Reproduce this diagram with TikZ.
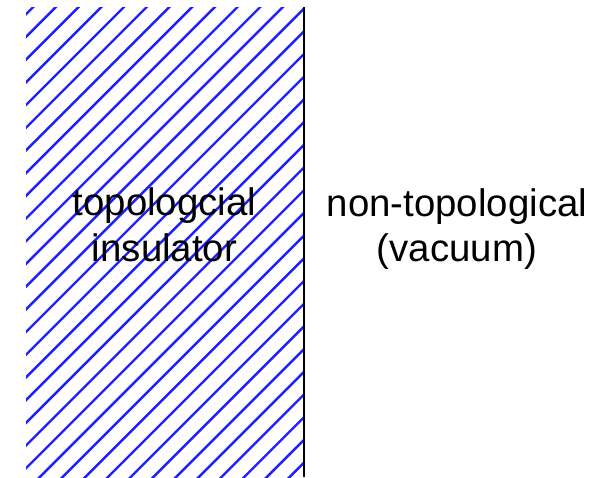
\documentclass[tikz,border=0pt]{standalone}
\usepackage{fontspec}
\setmainfont{Liberation Sans}
\begin{document}
\begin{tikzpicture}[x=0.5pt,y=-0.5pt,
  hatch/.style={blue!88!white, line width=1.2pt},
  wall/.style={black, line width=1.4pt},
  lbl/.style={font=\fontsize{19.2}{23}\selectfont, anchor=base, inner sep=0pt}]
\useasboundingbox (0,0) rectangle (610,477);
\begin{scope}
  \clip (26,7) rectangle (303,477);
  \foreach \k in {-25,...,10} \draw[hatch] ({585+22.7*\k},0) -- ++(-500,500);
\end{scope}
\coordinate (wtop) at (304,7);
\coordinate (wbot) at (304,477);
\draw[wall] (wtop) -- (wbot);
\node[lbl] (ti1) at (164.5,215) {topologcial};
\node[lbl] (ti2) at (164.5,261) {insulator};
\node[lbl] (nt1) at (457,216.5) {non-topological};
\node[lbl] (nt2) at (457,261.5) {(vacuum)};
\end{tikzpicture}
\end{document}
